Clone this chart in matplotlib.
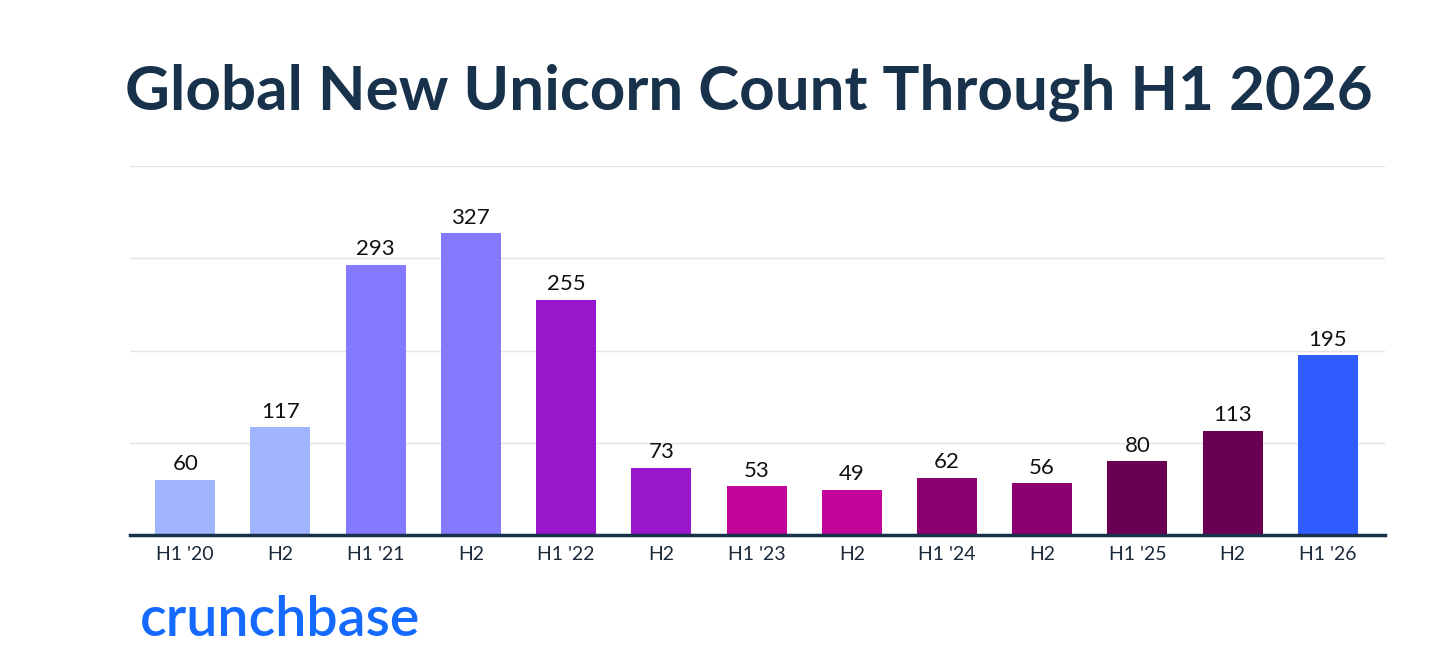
import matplotlib
matplotlib.use("Agg")
import matplotlib.pyplot as plt

categories = ["H1 '20", "H2", "H1 '21", "H2", "H1 '22", "H2", "H1 '23", "H2",
              "H1 '24", "H2", "H1 '25", "H2", "H1 '26"]
values = [60, 117, 293, 327, 255, 73, 53, 49, 62, 56, 80, 113, 195]
colors = ["#a0b4ff", "#a0b4ff", "#8579ff", "#8579ff", "#9b17cb", "#9b17cb",
          "#c2059b", "#c2059b", "#8c006f", "#8c006f", "#6a0051", "#6a0051",
          "#2e5cff"]
yticks = [100, 200, 300, 400]

title = "Global New Unicorn Count Through H1 2026"

fig = plt.figure(figsize=(14.56, 6.70), dpi=100)
ax = fig.add_axes([130/1456, 1 - 535/670, (1385-130)/1456, (535-166)/670])

x = list(range(len(values)))
ax.bar(x, values, width=0.63, color=colors, zorder=3)
for xi, v in zip(x, values):
    ax.text(xi, v + 6, str(v), ha="center", va="bottom", fontsize=16,
            family="Lato", color="#111111")

ax.set_ylim(0, 400)
ax.set_xlim(-0.58, 12.6)
ax.set_yticks(yticks)
ax.yaxis.grid(True, color="#e3e3e3", lw=1, zorder=0)
ax.tick_params(axis="y", length=0, labelleft=False)
ax.set_xticks(x)
ax.set_xticklabels(categories, fontsize=14, family="Lato", color="#1a2a3a")
ax.tick_params(axis="x", length=0, pad=8)
for s in ["top", "right", "left"]:
    ax.spines[s].set_visible(False)
ax.spines["bottom"].set_color("#17324a")
ax.spines["bottom"].set_linewidth(2.5)
ax.spines["bottom"].set_zorder(4)

fig.text(125/1456, 1 - 92/670, title, fontsize=44.6, fontweight="bold",
         family="Lato", color="#17324a", ha="left", va="center")
fig.text(140/1456, 1 - 620/670, "crunchbase", fontsize=40, fontweight="semibold",
         family="Lato", color="#146aff", ha="left", va="center")

fig.savefig("out.png", dpi=100, facecolor="white")
